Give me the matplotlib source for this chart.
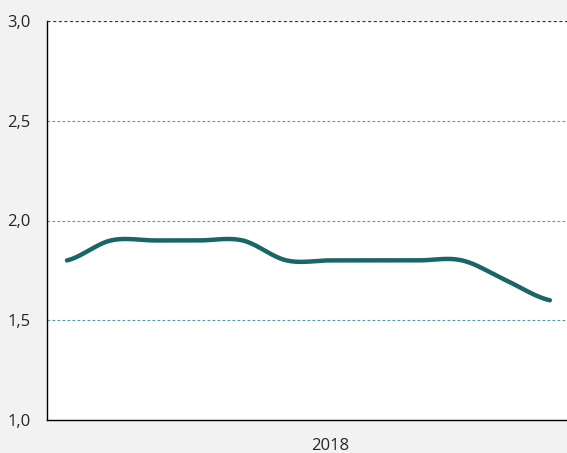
import numpy as np
import matplotlib
matplotlib.use("Agg")
import matplotlib.pyplot as plt

# valores mensuales (2018)
months = list(range(12))
values = [1.8, 1.9, 1.9, 1.9, 1.9, 1.8, 1.8, 1.8, 1.8, 1.8, 1.7, 1.6]
yticks = [1.0, 1.5, 2.0, 2.5, 3.0]
year_label = "2018"
year_pos = 6


def catmull_rom(xs, ys, steps=20):
    # suavizado tipo Excel para dibujar la linea
    px = np.array(xs, dtype=float)
    py = np.array(ys, dtype=float)
    px = np.concatenate([[2 * px[0] - px[1]], px, [2 * px[-1] - px[-2]]])
    py = np.concatenate([[py[0]], py, [py[-1]]])
    out_x, out_y = [], []
    for i in range(1, len(px) - 2):
        t = np.linspace(0, 1, steps, endpoint=False)
        for arr, out in ((px, out_x), (py, out_y)):
            p0, p1, p2, p3 = arr[i - 1], arr[i], arr[i + 1], arr[i + 2]
            out.extend(0.5 * ((2 * p1) + (-p0 + p2) * t
                              + (2 * p0 - 5 * p1 + 4 * p2 - p3) * t ** 2
                              + (-p0 + 3 * p1 - 3 * p2 + p3) * t ** 3))
    out_x.append(px[-2])
    out_y.append(py[-2])
    return out_x, out_y


plt.rcParams['font.family'] = ['Open Sans', 'DejaVu Sans']

fig = plt.figure(figsize=(5.67, 4.53), dpi=100)
fig.set_facecolor('#f2f2f2')
ax = fig.add_axes([47 / 567, 33 / 453, 520 / 567, 399 / 453])
ax.set_facecolor('white')

sx, sy = catmull_rom(months, values)
ax.plot(sx, sy, color='#1a6567', linewidth=3.2, solid_capstyle='round', zorder=3)

ax.set_xlim(-0.455, 11.39)
ax.set_ylim(1.0, 3.0)
ax.set_yticks(yticks)
ax.set_yticklabels([f"{v:.1f}".replace('.', ',') for v in yticks])
ax.set_xticks([year_pos])
ax.set_xticklabels([year_label])

ax.axhline(1.5, color='#4f9ea4', linestyle=(0, (2.5, 2)), linewidth=0.8, zorder=1)
ax.axhline(2.0, color='#4f9ea4', linestyle=(0, (2.5, 2)), linewidth=0.8, zorder=1)
ax.axhline(2.5, color='#7a8c8c', linestyle=(0, (2.5, 2)), linewidth=0.8, zorder=1)
ax.axhline(3.0, color='#2b3a3a', linestyle=(0, (2.5, 2)), linewidth=0.9, zorder=1)

for side in ['top', 'right']:
    ax.spines[side].set_visible(False)
ax.spines['left'].set_color('black')
ax.spines['bottom'].set_color('black')
ax.spines['left'].set_linewidth(1.0)
ax.spines['bottom'].set_linewidth(1.0)
ax.tick_params(axis='both', length=0, labelsize=12, colors='#262626')
ax.tick_params(axis='y', pad=12)
ax.tick_params(axis='x', pad=13)

fig.savefig('out.png', dpi=100, facecolor=fig.get_facecolor())
